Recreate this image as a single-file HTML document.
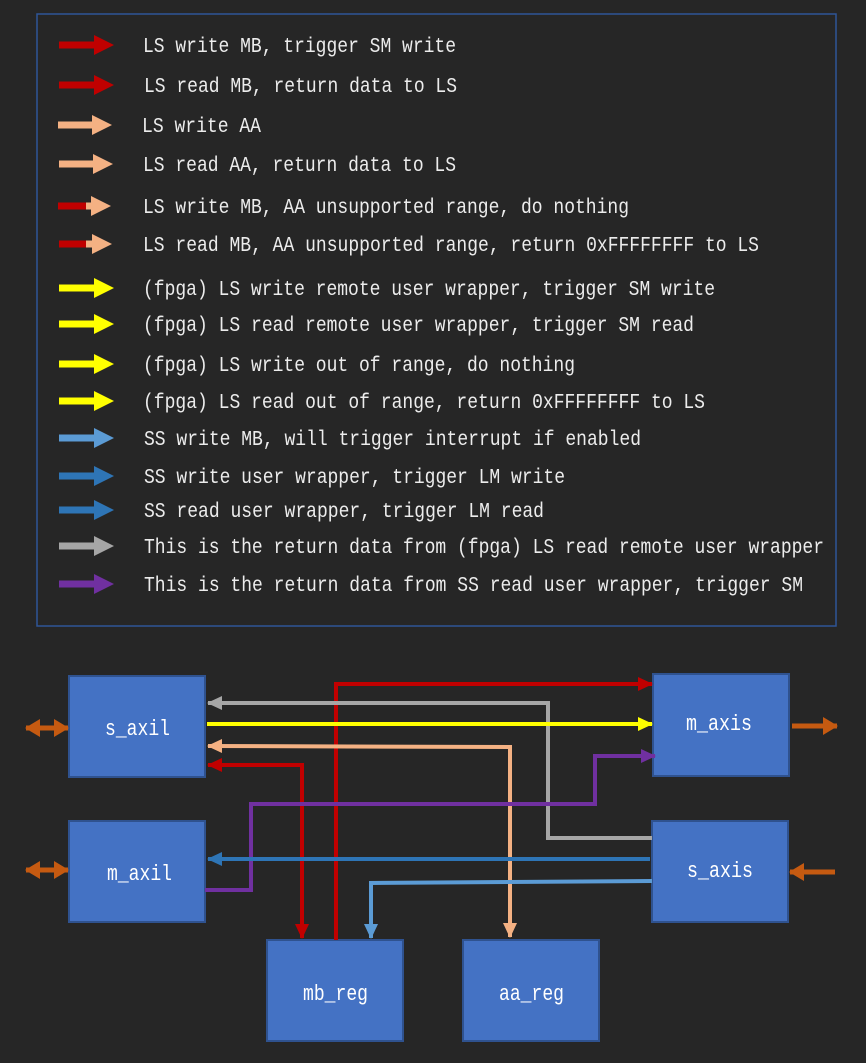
<!DOCTYPE html>
<html><head><meta charset="utf-8"><style>
html,body{margin:0;padding:0;background:#262626;}
svg{display:block;}
text{font-family:"Liberation Mono",monospace;}
</style></head><body>
<svg width="866" height="1063" viewBox="0 0 866 1063" xmlns="http://www.w3.org/2000/svg">
<defs>
<marker id="mr" markerUnits="userSpaceOnUse" markerWidth="16" markerHeight="16" refX="14" refY="8" orient="auto-start-reverse"><path d="M0,1 L15,8 L0,15 Z" fill="#c00000"/></marker>
<marker id="mp" markerUnits="userSpaceOnUse" markerWidth="16" markerHeight="16" refX="14" refY="8" orient="auto-start-reverse"><path d="M0,1 L15,8 L0,15 Z" fill="#f4b183"/></marker>
<marker id="my" markerUnits="userSpaceOnUse" markerWidth="16" markerHeight="16" refX="14" refY="8" orient="auto-start-reverse"><path d="M0,1 L15,8 L0,15 Z" fill="#ffff00"/></marker>
<marker id="mg" markerUnits="userSpaceOnUse" markerWidth="16" markerHeight="16" refX="14" refY="8" orient="auto-start-reverse"><path d="M0,1 L15,8 L0,15 Z" fill="#a6a6a6"/></marker>
<marker id="mb" markerUnits="userSpaceOnUse" markerWidth="16" markerHeight="16" refX="14" refY="8" orient="auto-start-reverse"><path d="M0,1 L15,8 L0,15 Z" fill="#2e75b6"/></marker>
<marker id="ml" markerUnits="userSpaceOnUse" markerWidth="16" markerHeight="16" refX="14" refY="8" orient="auto-start-reverse"><path d="M0,1 L15,8 L0,15 Z" fill="#5b9bd5"/></marker>
<marker id="mu" markerUnits="userSpaceOnUse" markerWidth="16" markerHeight="16" refX="14" refY="8" orient="auto-start-reverse"><path d="M0,1 L15,8 L0,15 Z" fill="#7030a0"/></marker>
<marker id="mo" markerUnits="userSpaceOnUse" markerWidth="20" markerHeight="20" refX="14" refY="10" orient="auto-start-reverse"><path d="M0,1 L15,10 L0,19 Z" fill="#c55a11"/></marker>
</defs>
<rect x="37" y="14" width="799" height="612" fill="none" stroke="#2f5597" stroke-width="1.5"/>
<g font-size="21" fill="#ececec" lengthAdjust="spacingAndGlyphs">
<g stroke-width="7">
<line x1="59" y1="45" x2="95" y2="45" stroke="#c00000"/><path d="M94,35 L114,45 L94,55Z" fill="#c00000"/>
<line x1="59" y1="85" x2="95" y2="85" stroke="#c00000"/><path d="M94,75 L114,85 L94,95Z" fill="#c00000"/>
<line x1="58" y1="125" x2="95" y2="125" stroke="#f4b183"/><path d="M92,115 L112,125 L92,135Z" fill="#f4b183"/>
<line x1="59" y1="164" x2="95" y2="164" stroke="#f4b183"/><path d="M93,154 L113,164 L93,174Z" fill="#f4b183"/>
<line x1="58" y1="206" x2="86" y2="206" stroke="#c00000"/><line x1="86" y1="206" x2="95" y2="206" stroke="#f4b183"/><path d="M91,196 L111,206 L91,216Z" fill="#f4b183"/>
<line x1="59" y1="244" x2="86" y2="244" stroke="#c00000"/><line x1="86" y1="244" x2="95" y2="244" stroke="#f4b183"/><path d="M92,234 L112,244 L92,254Z" fill="#f4b183"/>
<line x1="59" y1="288" x2="95" y2="288" stroke="#ffff00"/><path d="M94,278 L114,288 L94,298Z" fill="#ffff00"/>
<line x1="59" y1="324" x2="95" y2="324" stroke="#ffff00"/><path d="M94,314 L114,324 L94,334Z" fill="#ffff00"/>
<line x1="59" y1="364" x2="95" y2="364" stroke="#ffff00"/><path d="M94,354 L114,364 L94,374Z" fill="#ffff00"/>
<line x1="59" y1="401" x2="95" y2="401" stroke="#ffff00"/><path d="M94,391 L114,401 L94,411Z" fill="#ffff00"/>
<line x1="59" y1="438" x2="95" y2="438" stroke="#5b9bd5"/><path d="M94,428 L114,438 L94,448Z" fill="#5b9bd5"/>
<line x1="59" y1="476" x2="95" y2="476" stroke="#2e75b6"/><path d="M94,466 L114,476 L94,486Z" fill="#2e75b6"/>
<line x1="59" y1="510" x2="95" y2="510" stroke="#2e75b6"/><path d="M94,500 L114,510 L94,520Z" fill="#2e75b6"/>
<line x1="59" y1="546" x2="95" y2="546" stroke="#a6a6a6"/><path d="M94,536 L114,546 L94,556Z" fill="#a6a6a6"/>
<line x1="59" y1="584" x2="95" y2="584" stroke="#7030a0"/><path d="M94,574 L114,584 L94,594Z" fill="#7030a0"/>
</g>
<text x="143" y="52" textLength="313" lengthAdjust="spacingAndGlyphs">LS write MB, trigger SM write</text>
<text x="144" y="92" textLength="313" lengthAdjust="spacingAndGlyphs">LS read MB, return data to LS</text>
<text x="142" y="132" textLength="119" lengthAdjust="spacingAndGlyphs">LS write AA</text>
<text x="143" y="171" textLength="313" lengthAdjust="spacingAndGlyphs">LS read AA, return data to LS</text>
<text x="143" y="213" textLength="486" lengthAdjust="spacingAndGlyphs">LS write MB, AA unsupported range, do nothing</text>
<text x="143" y="251" textLength="616" lengthAdjust="spacingAndGlyphs">LS read MB, AA unsupported range, return 0xFFFFFFFF to LS</text>
<text x="143" y="295" textLength="572" lengthAdjust="spacingAndGlyphs">(fpga) LS write remote user wrapper, trigger SM write</text>
<text x="143" y="331" textLength="551" lengthAdjust="spacingAndGlyphs">(fpga) LS read remote user wrapper, trigger SM read</text>
<text x="143" y="371" textLength="432" lengthAdjust="spacingAndGlyphs">(fpga) LS write out of range, do nothing</text>
<text x="143" y="408" textLength="562" lengthAdjust="spacingAndGlyphs">(fpga) LS read out of range, return 0xFFFFFFFF to LS</text>
<text x="144" y="445" textLength="497" lengthAdjust="spacingAndGlyphs">SS write MB, will trigger interrupt if enabled</text>
<text x="144" y="483" textLength="421" lengthAdjust="spacingAndGlyphs">SS write user wrapper, trigger LM write</text>
<text x="144" y="517" textLength="400" lengthAdjust="spacingAndGlyphs">SS read user wrapper, trigger LM read</text>
<text x="144" y="553" textLength="680" lengthAdjust="spacingAndGlyphs">This is the return data from (fpga) LS read remote user wrapper</text>
<text x="144" y="591" textLength="659" lengthAdjust="spacingAndGlyphs">This is the return data from SS read user wrapper, trigger SM</text>
</g>
<g fill="#4472c4" stroke="#2f528f" stroke-width="2">
<rect x="69" y="676" width="136" height="101"/>
<rect x="69" y="821" width="136" height="101"/>
<rect x="653" y="674" width="136" height="102"/>
<rect x="652" y="821" width="136" height="101"/>
<rect x="267" y="940" width="136" height="101"/>
<rect x="463" y="940" width="136" height="101"/>
</g>
<g font-size="22" fill="#ffffff">
<text x="105" y="735" textLength="65" lengthAdjust="spacingAndGlyphs">s_axil</text>
<text x="107" y="880" textLength="65" lengthAdjust="spacingAndGlyphs">m_axil</text>
<text x="686" y="730" textLength="66" lengthAdjust="spacingAndGlyphs">m_axis</text>
<text x="687" y="877" textLength="66" lengthAdjust="spacingAndGlyphs">s_axis</text>
<text x="303" y="1000" textLength="65" lengthAdjust="spacingAndGlyphs">mb_reg</text>
<text x="499" y="1000" textLength="65" lengthAdjust="spacingAndGlyphs">aa_reg</text>
</g>
<g fill="none" stroke-width="4">
<polyline points="336,940 336,684 652,684" stroke="#c00000" marker-end="url(#mr)"/>
<polyline points="652,838 548,838 548,703 208,703" stroke="#a6a6a6" marker-end="url(#mg)"/>
<line x1="207" y1="724" x2="652" y2="724" stroke="#ffff00" marker-end="url(#my)"/>
<polyline points="208,746 510,747 510,937" stroke="#f4b183" marker-start="url(#mp)" marker-end="url(#mp)"/>
<polyline points="208,765 302,765 302,938" stroke="#c00000" marker-start="url(#mr)" marker-end="url(#mr)"/>
<polyline points="205,890 251,890 251,804 595,804 595,756 655,756" stroke="#7030a0" marker-end="url(#mu)"/>
<line x1="650" y1="859" x2="208" y2="859" stroke="#2e75b6" marker-end="url(#mb)"/>
<polyline points="652,881 371,883 371,938" stroke="#5b9bd5" marker-end="url(#ml)"/>
<g stroke="#c55a11" stroke-width="5">
<line x1="26" y1="728" x2="68" y2="728" marker-start="url(#mo)" marker-end="url(#mo)"/>
<line x1="26" y1="870" x2="68" y2="870" marker-start="url(#mo)" marker-end="url(#mo)"/>
<line x1="792" y1="726" x2="837" y2="726" marker-end="url(#mo)"/>
<line x1="835" y1="872" x2="790" y2="872" marker-end="url(#mo)"/>
</g>
</g>
</svg>
</body></html>
